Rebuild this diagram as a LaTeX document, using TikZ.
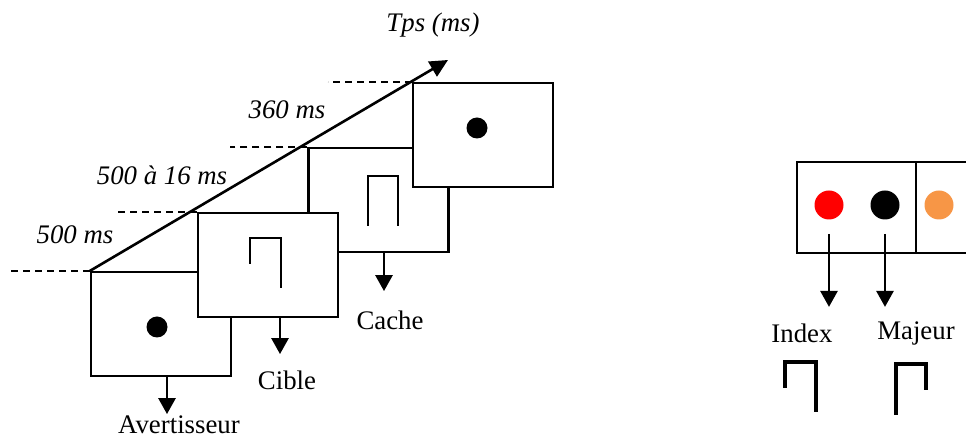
\documentclass[tikz,border=0pt]{standalone}
\usepackage{fontspec}
\setmainfont{Liberation Serif}
\usetikzlibrary{positioning, arrows.meta}
\definecolor{DotRed}{HTML}{FF0000}
\definecolor{DotOrange}{HTML}{F79646}

\begin{document}
\begin{tikzpicture}[x=0.5pt, y=-0.5pt, font=\fontsize{13.4}{15}\selectfont,
    screen/.style={draw, fill=white, line width=1.1pt, minimum width=70pt, minimum height=52pt, inner sep=0pt},
    dot/.style={circle, fill=black, inner sep=0pt, minimum size=10.5pt},
    bigdot/.style={circle, inner sep=0pt, minimum size=14.5pt},
    tick/.style={dashed, dash pattern=on 3.5pt off 2.5pt, line width=1pt},
    arr/.style={-{Triangle[length=8pt, width=8.5pt]}, line width=1.4pt},
    glyph/.style={line width=1pt},
    keyglyph/.style={line width=1.9pt}]
    \useasboundingbox (0,0) rectangle (966,438);
    \clip (0,0) rectangle (966,438);

    % Screens of one trial
    \node[screen] (warn) at (161,324) {};
    \node[screen] (mask) at (378.5,200) {};
    \node[screen] (resp) at (483,135) {};
    \node[screen] (target) at (268,265) {};
    \node[dot] (warndot) at (157,327) {};
    \node[dot] (respdot) at (477,128) {};
    \draw[glyph] (250,264) -- (250,238) -- (281,238) -- (281,288);
    \draw[glyph] (368,226) -- (368,176) -- (398,176) -- (398,226);

    % Time axis
    \coordinate (tip) at (448,60);
    \draw[-{Triangle[length=9pt, width=8.5pt]}, line width=1.3pt] (warn.north west) -- (tip);
    \draw[tick] (warn.north west) -- ++(-80,0);
    \draw[tick] (target.north west) -- ++(-83,0);
    \draw[tick] (mask.north west) -- ++(-77,0);
    \draw[tick] (resp.north west) -- ++(-84,0);
    \node (tps) at (433,25) {\textit{Tps (ms)}};
    \node (t360) at (287,110) {\textit{360 ms}};
    \node (t500b) at (162,175) {\textit{500 à 16 ms}};
    \node (t500a) at (75,235) {\textit{500 ms}};

    % Screen names
    \node[inner sep=0pt] (avert) at (179,425) {Avertisseur};
    \node[inner sep=0pt] (cible) at (287,380) {Cible};
    \node[inner sep=0pt] (cache) at (390,320) {Cache};
    \draw[arr] ([xshift=3pt]warn.south) -- ++(0,37);
    \draw[arr] ([xshift=6pt]target.south) -- ++(0,36);
    \draw[arr] ([xshift=2.75pt]mask.south) -- ++(0,38);

    % Response keys
    \node[draw, line width=1.1pt, minimum width=59.5pt, minimum height=45.5pt, inner sep=0pt] (keys) at (856.5,207.5) {};
    \node[draw, line width=1.1pt, minimum width=62pt, minimum height=45.5pt, inner sep=0pt] (keysb) at (978,207.5) {};
    \node[bigdot, fill=DotRed] (rdot) at (829,205) {};
    \node[bigdot, fill=black] (kdot) at (885,205) {};
    \node[bigdot, fill=DotOrange] (odot) at (939,205) {};
    \draw[arr] ([yshift=-7pt]rdot.south) -- ++(0,73);
    \draw[arr] ([yshift=-7pt]kdot.south) -- ++(0,73);
    \node[inner sep=0pt] (index) at (802,333) {Index};
    \node[inner sep=0pt] (majeur) at (916,333) {Majeur};
    \draw[keyglyph] (785,388) -- (785,362) -- (816,362) -- (816,412);
    \draw[keyglyph] (896,415) -- (896,364) -- (926,364) -- (926,390);
\end{tikzpicture}
\end{document}
